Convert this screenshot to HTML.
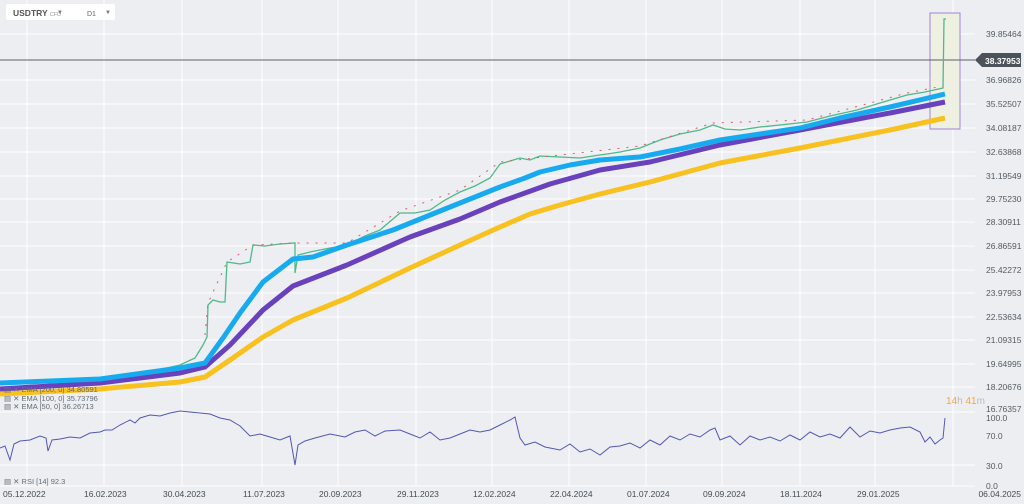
<!DOCTYPE html>
<html><head><meta charset="utf-8"><style>
body{margin:0;width:1024px;height:504px;background:#eceef1;font-family:"Liberation Sans",sans-serif;overflow:hidden}
svg{position:absolute;left:0;top:0}
</style></head><body>
<svg width="1024" height="504" viewBox="0 0 1024 504">
<rect width="1024" height="504" fill="#eceef1"/>
<g stroke="#ffffff" stroke-width="1">
<line x1="27" y1="0" x2="27" y2="486"/><line x1="104" y1="0" x2="104" y2="486"/><line x1="182" y1="0" x2="182" y2="486"/><line x1="262" y1="0" x2="262" y2="486"/><line x1="338" y1="0" x2="338" y2="486"/><line x1="416" y1="0" x2="416" y2="486"/><line x1="492" y1="0" x2="492" y2="486"/><line x1="569" y1="0" x2="569" y2="486"/><line x1="646" y1="0" x2="646" y2="486"/><line x1="722" y1="0" x2="722" y2="486"/><line x1="800" y1="0" x2="800" y2="486"/><line x1="875" y1="0" x2="875" y2="486"/><line x1="953" y1="0" x2="953" y2="486"/>
<line x1="0" y1="34" x2="975" y2="34"/><line x1="0" y1="80" x2="975" y2="80"/><line x1="0" y1="104" x2="975" y2="104"/><line x1="0" y1="128" x2="975" y2="128"/><line x1="0" y1="152" x2="975" y2="152"/><line x1="0" y1="176" x2="975" y2="176"/><line x1="0" y1="199" x2="975" y2="199"/><line x1="0" y1="222" x2="975" y2="222"/><line x1="0" y1="246" x2="975" y2="246"/><line x1="0" y1="270" x2="975" y2="270"/><line x1="0" y1="293" x2="975" y2="293"/><line x1="0" y1="317" x2="975" y2="317"/><line x1="0" y1="340" x2="975" y2="340"/><line x1="0" y1="364" x2="975" y2="364"/><line x1="0" y1="387" x2="975" y2="387"/>
<line x1="0" y1="412" x2="975" y2="412"/><line x1="0" y1="465" x2="975" y2="465"/><line x1="0" y1="486" x2="975" y2="486"/>
</g>
<rect x="930" y="13" width="30" height="116" fill="#eef0e2" stroke="#a184d6" stroke-width="1"/>
<line x1="0" y1="60" x2="975" y2="60" stroke="#5a6168" stroke-width="1"/>
<polyline fill="none" stroke="#4fb98a" stroke-width="1.3" points="0,383 50,381 100,378 140,374 180,365 195,358 203,345 207,337 208,305 213,300 220,302 225,302 227,262 240,264 250,262 253,245 265,246 280,244 295,243 295,273 298,255 310,252 330,248 347,245 365,236 380,230 400,213 415,213 430,210 445,200 460,192 475,186 490,178 500,164 510,161 520,158 530,160 540,156 560,157 580,158 600,155 620,152 640,148 660,140 680,134 700,130 713,125 725,129 740,130 760,127 780,125 807,122 830,116 857,110 880,103 907,95 925,92 943,88 944,19 946,19"/>
<polyline fill="none" stroke="#e05a6a" stroke-width="1" stroke-dasharray="2 7" points="205,335 208,303 227,262 253,245 295,243 347,243 400,211 460,190 500,162 560,155 640,146 713,123 807,120 907,93 943,86"/>
<polyline fill="none" stroke="#f8c11f" stroke-width="5" stroke-linejoin="round" points="0,394 100,389 180,382 205,377 230,360 263,337 293,320 347,298 410,268 460,245 500,227 530,214 560,205 600,194 650,182 720,163 800,148 890,130 945,118"/>
<polyline fill="none" stroke="#6941bd" stroke-width="5" stroke-linejoin="round" points="0,389 100,383 180,373 205,367 230,345 263,310 293,286 347,265 410,237 460,219 500,202 550,184 600,170 650,162 720,145 800,130 890,113 945,102"/>
<polyline fill="none" stroke="#18aaee" stroke-width="5" stroke-linejoin="round" points="0,383 100,379 180,368 205,363 223,338 240,313 263,282 293,259 313,257 347,245 393,230 450,207 500,187 525,178 540,172 570,165 600,160 640,157 680,149 720,140 800,128 840,118 890,107 945,94"/>
<polyline fill="none" stroke="#5258b4" stroke-width="1" points="0,448 5,446 10,460 14,444 20,441 30,440 40,436 46,438 48,451 52,440 60,439 70,437 80,438 90,433 100,432 105,430 112,430 120,425 130,420 135,423 140,418 150,415 160,416 170,413 180,411 190,412 200,413 210,414 220,418 230,420 240,426 250,436 260,434 270,437 280,440 290,436 295,465 298,445 305,441 315,438 330,434 345,437 355,432 365,430 375,436 385,431 400,430 410,434 420,438 430,432 440,440 450,438 460,434 470,430 480,432 490,430 500,425 510,420 515,417 520,438 525,445 535,442 545,447 560,450 570,444 580,452 590,449 600,455 610,447 620,446 630,443 640,448 650,440 660,445 670,436 680,440 690,434 700,437 710,430 715,428 720,440 730,436 740,445 750,436 760,440 770,437 780,441 790,435 800,440 810,432 820,437 830,434 840,438 850,427 860,437 870,431 880,433 890,430 900,428 910,427 920,432 925,442 930,437 935,444 940,440 943,438 945,418"/>
<g font-size="8.5" fill="#555b63">
<text x="986" y="37">39.85464</text><text x="986" y="83">36.96826</text><text x="986" y="107">35.52507</text><text x="986" y="131">34.08187</text><text x="986" y="155">32.63868</text><text x="986" y="179">31.19549</text><text x="986" y="202">29.75230</text><text x="986" y="225">28.30911</text><text x="986" y="249">26.86591</text><text x="986" y="273">25.42272</text><text x="986" y="296">23.97953</text><text x="986" y="320">22.53634</text><text x="986" y="343">21.09315</text><text x="986" y="367">19.64995</text><text x="986" y="390">18.20676</text><text x="986" y="412">16.76357</text>
<text x="986" y="421">100.0</text><text x="986" y="439">70.0</text><text x="986" y="469">30.0</text><text x="986" y="489">0.0</text>
</g>
<path d="M975,60 L982,53 L1021,53 L1021,67 L982,67 Z" fill="#4b5259"/>
<text x="985" y="64" font-size="8.5" font-weight="bold" fill="#fff">38.37953</text>
<text x="946" y="404" font-size="10" fill="#f5a53a">14<tspan fill="#bbb">h</tspan> 41<tspan fill="#bbb">m</tspan></text>
<g font-size="8.5" fill="#444c55">
<text x="3" y="497">05.12.2022</text><text x="84" y="497">16.02.2023</text><text x="163" y="497">30.04.2023</text><text x="243" y="497">11.07.2023</text><text x="319" y="497">20.09.2023</text><text x="397" y="497">29.11.2023</text><text x="473" y="497">12.02.2024</text><text x="550" y="497">22.04.2024</text><text x="627" y="497">01.07.2024</text><text x="703" y="497">09.09.2024</text><text x="780" y="497">18.11.2024</text><text x="857" y="497">29.01.2025</text><text x="1021" y="497" text-anchor="end">06.04.2025</text>
</g>
<g font-size="7.5" fill="#666d75">
<text x="4" y="392">▤ ✕ EMA [200, 0] 34.80591</text><text x="4" y="401">▤ ✕ EMA [100, 0] 35.73796</text><text x="4" y="409">▤ ✕ EMA [50, 0] 36.26713</text><text x="4" y="484">▤ ✕ RSI [14] 92.3</text>
</g>
<rect x="6" y="4" width="109" height="16" rx="2" fill="#ffffff"/>
<text x="13" y="16" font-size="8.5" font-weight="bold" fill="#555">USDTRY <tspan font-size="5.5" font-weight="normal" fill="#999">CFD</tspan></text>
<text x="57" y="14" font-size="6" fill="#777">▼</text>
<text x="87" y="16" font-size="7" fill="#666">D1</text>
<text x="105" y="14" font-size="6" fill="#777">▼</text>
</svg>
</body></html>
